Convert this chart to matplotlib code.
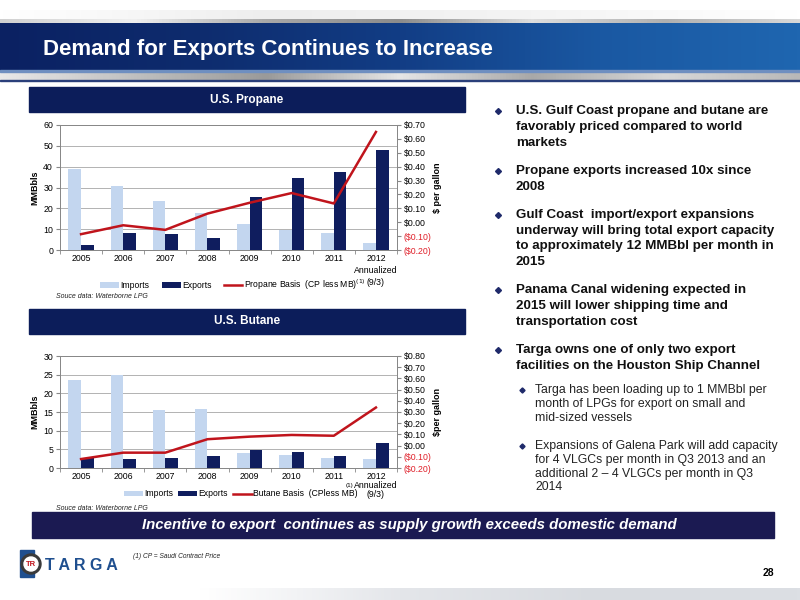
import numpy as np
import matplotlib.pyplot as plt
from matplotlib.colors import LinearSegmentedColormap
from matplotlib.patches import Rectangle, Circle

plt.rcParams['font.family'] = ['Liberation Sans', 'DejaVu Sans']

# ---- data ----
years = ['2005', '2006', '2007', '2008', '2009', '2010', '2011', '2012\nAnnualized\n(9/3)']

propane_imports = [38.8, 30.7, 23.3, 17.6, 12.4, 9.5, 8.1, 3.5]
propane_exports = [2.3, 8.1, 7.5, 6.0, 25.5, 34.5, 37.5, 48.2]
propane_basis = [-0.086, -0.022, -0.055, 0.062, 0.14, 0.21, 0.135, 0.65]

butane_imports = [23.7, 25.0, 15.6, 15.9, 4.1, 3.6, 2.6, 2.3]
butane_exports = [2.8, 2.5, 2.7, 3.2, 4.9, 4.4, 3.1, 6.6]
butane_basis = [-0.12, -0.063, -0.063, 0.057, 0.08, 0.095, 0.088, 0.34]

bullets = [
    ['U.S. Gulf Coast propane and butane are', 'favorably priced compared to world', 'markets'],
    ['Propane exports increased 10x since', '2008'],
    ['Gulf Coast  import/export expansions', 'underway will bring total export capacity',
     'to approximately 12 MMBbl per month in', '2015'],
    ['Panama Canal widening expected in', '2015 will lower shipping time and',
     'transportation cost'],
    ['Targa owns one of only two export', 'facilities on the Houston Ship Channel'],
]
sub_bullets = [
    ['Targa has been loading up to 1 MMBbl per', 'month of LPGs for export on small and',
     'mid-sized vessels'],
    ['Expansions of Galena Park will add capacity', 'for 4 VLGCs per month in Q3 2013 and an',
     'additional 2 \u2013 4 VLGCs per month in Q3', '2014'],
]

IMP_COLOR = '#c3d6ef'
EXP_COLOR = '#0f1d5e'
LINE_COLOR = '#c0141c'
NAVY = '#0c1d5a'

W, H = 800, 600
fig = plt.figure(figsize=(8, 6), dpi=100)

# background axes in pixel coordinates (y down)
bg = fig.add_axes([0, 0, 1, 1], zorder=0)
bg.set_xlim(0, W)
bg.set_ylim(H, 0)
bg.axis('off')


def hgrad(x0, x1, y0, y1, colors):
    cmap = LinearSegmentedColormap.from_list('g', colors)
    g = np.linspace(0, 1, 256).reshape(1, -1)
    bg.imshow(g, extent=(x0, x1, y1, y0), aspect='auto', cmap=cmap, zorder=1)


# title banner
hgrad(0, W, 10, 20, ['#ffffff', '#eeeeee', '#f4f4f4', '#ffffff'])
hgrad(0, W, 19, 24, ['#d0d0d0', '#f0f0f0', '#a8a8a8', '#8c8c8c', '#dedede', '#b0b0b0', '#d8d8d8'])
hgrad(0, W, 23, 72, ['#0b2162', '#0e2c6e', '#123d85', '#1a58a2', '#1f66b0'])
bg.add_patch(Rectangle((0, 70), W, 2, color='#6f8fc0', zorder=2))
hgrad(0, W, 72, 80, ['#e8e8e8', '#c0c0c0', '#9a9a9a', '#e6e6e6', '#a8a8a8', '#d8d8d8', '#b8b8b8'])
bg.add_patch(Rectangle((0, 79.5), W, 1.5, color='#2a3f7a', zorder=2))
bg.set_xlim(0, W)
bg.set_ylim(H, 0)

bg.text(43, 50, 'Demand for Exports Continues to Increase', color='white',
        fontsize=16, fontweight='bold', va='center', ha='left', zorder=3)

# section headers
for y0, label in [(87, 'U.S. Propane'), (309, 'U.S. Butane')]:
    bg.add_patch(Rectangle((29, y0), 436, 25, color=NAVY, zorder=2))
    bg.text(247, y0 + 12.5, label, color='white', fontsize=8.5, fontweight='bold',
            ha='center', va='center', zorder=3)

# bottom banner
bg.add_patch(Rectangle((32, 512), 742, 26, color='#1b1a52', zorder=2))
bg.text(409, 525, 'Incentive to export  continues as supply growth exceeds domestic demand',
        color='white', fontsize=10.8, fontweight='bold', style='italic',
        ha='center', va='center', zorder=3)

# source notes
for y in (296, 508):
    bg.text(56, y, 'Souce data: Waterborne LPG', fontsize=5, style='italic',
            color='#222222', ha='left', va='center', zorder=3)

# footer
bg.text(133, 556, '(1) CP = Saudi Contract Price', fontsize=4.8, style='italic',
        color='#222222', ha='left', va='center', zorder=3)
bg.text(768, 573, '28', fontsize=7.5, fontweight='bold', ha='center', va='center', zorder=3)
hgrad(0, W, 588, 600, ['#ffffff', '#ffffff', '#e4e6ea', '#d8dbe0', '#dcdfe4'])
bg.set_xlim(0, W)
bg.set_ylim(H, 0)

# logo
bg.add_patch(Rectangle((20, 550), 14, 27, color='#1f4f8f', zorder=2))
bg.add_patch(Circle((31, 564), 10, color='#3a3a3a', zorder=3))
bg.add_patch(Circle((31, 564), 7, color='white', zorder=4))
bg.text(31, 564.5, 'TR', color='#c0141c', fontsize=5.5, fontweight='bold',
        ha='center', va='center', zorder=5)
bg.text(45, 565, 'T A R G A', color='#1f4f8f', fontsize=11.5, fontweight='bold',
        ha='left', va='center', zorder=3)

# bullets
line_h = 15.8
y = 111
for item in bullets:
    bg.plot(498, y, marker='D', ms=3, color='#1f2a6a', zorder=3)
    for line in item:
        bg.text(516, y, line, fontsize=9.6, fontweight='bold', color='#111111',
                ha='left', va='center', zorder=3)
        y += line_h
    y += 12.4
y = 390
for item in sub_bullets:
    bg.plot(522, y, marker='D', ms=2.6, color='#1f2a6a', zorder=3)
    for line in item:
        bg.text(535, y, line, fontsize=8.8, color='#222222',
                ha='left', va='center', zorder=3)
        y += 13.8
    y += 14.5


def money(v):
    if v < -1e-9:
        return '(${:.2f})'.format(-v)
    return '${:.2f}'.format(abs(v))


def chart(rect, imports, exports, basis, ymax, ystep, rmin, rmax, basis_label,
          rlabel, xlinespacing):
    ax = fig.add_axes(rect, zorder=2)
    x = np.arange(len(years))
    bw = 0.3
    ax.bar(x - bw / 2, imports, bw, color=IMP_COLOR, label='Imports', zorder=2)
    ax.bar(x + bw / 2, exports, bw, color=EXP_COLOR, label='Exports', zorder=2)
    ax.set_xlim(-0.5, len(years) - 0.5)
    ax.set_ylim(0, ymax)
    ax.set_yticks(np.arange(0, ymax + 0.1, ystep))
    ax.yaxis.grid(True, color='#a6a6a6', lw=0.6, zorder=0)
    ax.set_axisbelow(True)
    ax.set_xticks(x)
    ax.set_xticklabels(years, fontsize=6.3, linespacing=xlinespacing)
    ax.set_xticks(np.arange(-0.5, len(years)), minor=True)
    ax.tick_params(axis='x', which='major', length=0, pad=3)
    ax.tick_params(axis='x', which='minor', length=3, color='#888888')
    ax.tick_params(axis='y', length=3, color='#888888', labelsize=6.3, pad=2)
    for s in ax.spines.values():
        s.set_color('#888888')
        s.set_linewidth(0.7)
    ax.set_ylabel('MMBbls', fontsize=6.5, fontweight='bold', labelpad=3)

    ax2 = ax.twinx()
    ax2.plot(x, basis, color=LINE_COLOR, lw=1.8, label=basis_label, zorder=3)
    ax2.set_ylim(rmin, rmax)
    rt = np.round(np.arange(rmin, rmax + 0.001, 0.1), 2)
    ax2.set_yticks(rt)
    ax2.set_yticklabels([money(v) for v in rt], fontsize=6.3)
    for lab, v in zip(ax2.get_yticklabels(), rt):
        if v < -1e-9:
            lab.set_color('#e0202a')
    ax2.tick_params(axis='y', length=3, color='#888888', pad=2)
    for s in ax2.spines.values():
        s.set_color('#888888')
        s.set_linewidth(0.7)
    ax2.set_ylabel(rlabel, fontsize=6.5, fontweight='bold', rotation=90, labelpad=1)
    return ax, ax2


p_ax, p_ax2 = chart([60 / W, 1 - 250 / H, 337 / W, 125 / H],
                    propane_imports, propane_exports, propane_basis,
                    60, 10, -0.2, 0.7, 'Propane Basis  (CP less MB)$^{(1)}$',
                    '$ per gallon', 1.45)
h1, l1 = p_ax.get_legend_handles_labels()
h2, l2 = p_ax2.get_legend_handles_labels()
p_ax.legend(h1 + h2, l1 + l2, ncol=3, frameon=False, fontsize=6.2,
            loc='center', bbox_to_anchor=(233 / W, 1 - 285 / H),
            bbox_transform=fig.transFigure, handlelength=2.2, handleheight=0.6,
            handletextpad=0.15, columnspacing=1.4)

b_ax, b_ax2 = chart([60 / W, 1 - 468 / H, 337 / W, 112 / H],
                    butane_imports, butane_exports, butane_basis,
                    30, 5, -0.2, 0.8, 'Butane Basis  (CPless MB)',
                    '$per gallon', 1.0)
h1, l1 = b_ax.get_legend_handles_labels()
h2, l2 = b_ax2.get_legend_handles_labels()
b_ax.legend(h1 + h2, l1 + l2, ncol=3, frameon=False, fontsize=6.2,
            loc='center', bbox_to_anchor=(241 / W, 1 - 494 / H),
            bbox_transform=fig.transFigure, handlelength=2.2, handleheight=0.6,
            handletextpad=0.15, columnspacing=0.6)
bg.text(350, 486, '(1)', fontsize=4.5, ha='center', va='center', zorder=3)

fig.savefig('out.png', dpi=100)
